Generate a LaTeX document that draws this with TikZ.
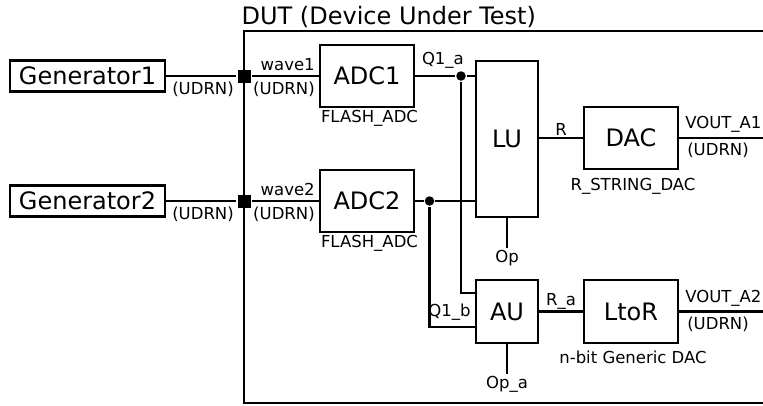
\documentclass[tikz,border=0pt]{standalone}
\usepackage{fontspec}
\setmainfont{DejaVu Sans}
\usetikzlibrary{calc}
\newcommand\blockfont{\fontsize{24}{28}\selectfont}
\newcommand\labelfont{\fontsize{16.5}{19}\selectfont}
\tikzset{
  every picture/.style={line width=2.3pt},
  block/.style={draw, rectangle, inner sep=0pt, minimum width=#1, minimum height=62pt, font=\blockfont},
  block/.default=94pt,
  genbox/.style={draw, rectangle, inner sep=0pt, minimum width=155pt, minimum height=31pt, font=\blockfont},
  lbl/.style={font=\labelfont, inner sep=1pt},
  dot/.style={circle, fill, inner sep=0pt, minimum size=9.5pt},
  junction/.style={rectangle, fill, inner sep=0pt, minimum size=13pt},
}

\begin{document}
\begin{tikzpicture}[x=1pt, y=-1pt]
  \useasboundingbox (0,0) rectangle (763,405);
  % DUT frame
  \draw (763,31) -| (244,403) -- (763,403);
  \node[font=\blockfont, anchor=base west, inner sep=0pt] (dut) at (240.5,24) {DUT (Device Under Test)};
  % generators and ADCs
  \foreach \i/\y in {1/76,2/201} {
    \node[genbox] (gen\i) at (87.5,\y) {Generator\i};
    \node[junction] (j\i) at (244,\y) {};
    \node[block] (adc\i) at (367,\y) {ADC\i};
    \node[lbl, anchor=north west] (flash\i) at (adc\i.south west) {FLASH\_ADC};
    \draw (gen\i) -- (j\i) -- (adc\i);
    \node[lbl, anchor=north west] (udrng\i) at ($(gen\i.east)+(4,4)$) {(UDRN)};
    \node[lbl, anchor=south east] (wave\i) at ($(adc\i.west)+(-2,-3)$) {wave\i};
    \node[lbl, anchor=north east] (udrna\i) at ($(adc\i.west)+(-2,4)$) {(UDRN)};
  }
  % units and DACs
  \node[block=62pt, minimum height=156pt] (lu) at (507,139) {LU};
  \node[block=62pt, minimum height=63pt] (au) at (507,311.5) {AU};
  \node[block] (dac) at (631,138) {DAC};
  \node[block, minimum height=63pt] (ltor) at (631,311.5) {LtoR};
  \node[lbl, anchor=north] (rstring) at ($(dac.south)+(2,6)$) {R\_STRING\_DAC};
  \node[lbl, anchor=north] (generic) at ($(ltor.south)+(2,5)$) {n-bit Generic DAC};
  % branch points
  \node[dot] (qa) at (461,76) {};
  \node[dot] (qb) at (429.5,201) {};
  \coordinate (au-a) at ($(au.north west)+(0,14)$);
  \coordinate (au-b) at ($(au.south west)+(0,-17)$);
  \draw (adc1) -- (qa) -- (qa -| lu.west);
  \draw (adc2) -- (qb) -- (qb -| lu.west);
  \draw (qa) |- (au-a);
  \draw (qb) |- (au-b);
  \node[lbl, anchor=south east] (q1a) at ($(qa)+(5,-5)$) {Q1\_a};
  \node[lbl, anchor=south east] (q1b) at ($(au-b)+(-2,-5)$) {Q1\_b};
  \draw (lu.east |- dac) -- node[lbl, above] (r) {R} (dac);
  \draw (au) -- node[lbl, above] (ra) {R\_a} (ltor);
  % opcode stubs
  \coordinate (op) at ($(lu.south)+(0,30)$);
  \coordinate (opa) at ($(au.south)+(0,30)$);
  \draw (lu) -- (op);
  \draw (au) -- (opa);
  \node[lbl, anchor=north] (oplbl) at (op) {Op};
  \node[lbl, anchor=north] (opalbl) at (opa) {Op\_a};
  % outputs
  \coordinate (vout1) at (763,138);
  \coordinate (vout2) at (763,311.5);
  \draw (dac) -- (vout1);
  \draw (ltor) -- (vout2);
  \node[lbl, anchor=south west] (va1) at ($(dac.east)+(4,-3)$) {VOUT\_A1};
  \node[lbl, anchor=north west] (ua1) at ($(dac.east)+(6,3)$) {(UDRN)};
  \node[lbl, anchor=south west] (va2) at ($(ltor.east)+(4,-3)$) {VOUT\_A2};
  \node[lbl, anchor=north west] (ua2) at ($(ltor.east)+(6,3)$) {(UDRN)};
\end{tikzpicture}
\end{document}
